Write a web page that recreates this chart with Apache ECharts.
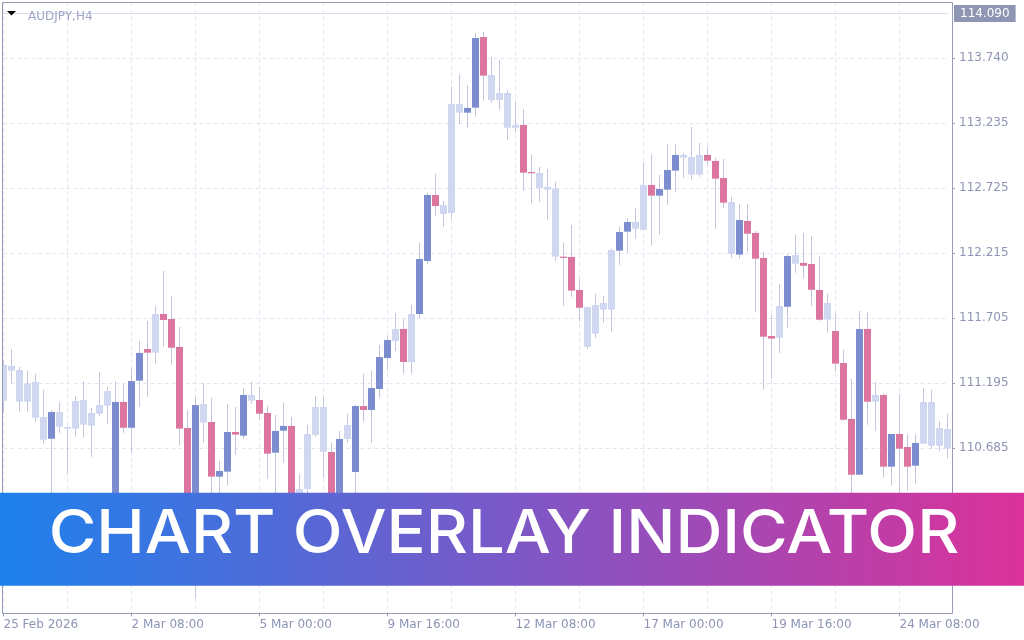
<!DOCTYPE html>
<html>
<head>
<meta charset="utf-8">
<script src="https://cdn.jsdelivr.net/npm/echarts@6/dist/echarts.min.js"></script>
<style>
html,body{margin:0;padding:0;background:#fff;}
#chart{width:1024px;height:640px;}
</style>
</head>
<body>
<div id="chart"></div>
<script>
// ---- data (AUDJPY, H4) ----
const symbolTitle = 'AUDJPY,H4';
const bannerText = 'CHART OVERLAY INDICATOR';
const bidPrice = 114.090;
const yTickValues = [110.685, 111.195, 111.705, 112.215, 112.725, 113.235, 113.740];
const xTickLabels = ['25 Feb 2026', '2 Mar 08:00', '5 Mar 00:00', '9 Mar 16:00', '12 Mar 08:00', '17 Mar 00:00', '19 Mar 16:00', '24 Mar 08:00'];

const openPrices = [
111.338,111.293,111.298,111.050,111.204,110.930,110.760,110.969,110.852,110.839,
111.063,110.862,110.956,111.019,110.163,111.048,110.846,111.215,111.463,111.434,
111.737,111.698,111.479,110.844,110.045,111.032,110.891,110.463,110.502,110.813,
110.784,111.103,111.063,110.962,110.651,110.823,110.860,110.296,110.366,110.789,
111.009,110.656,110.241,110.758,110.499,111.016,110.985,111.150,111.392,111.526,
111.620,111.361,111.737,112.152,112.669,112.591,112.528,113.382,113.314,113.353,
113.907,113.609,113.413,113.468,113.196,113.218,112.849,112.842,112.732,112.719,
112.186,112.184,111.925,111.792,111.583,111.771,111.771,112.233,112.382,112.405,
112.397,112.748,112.664,112.711,112.860,112.983,112.967,112.828,112.983,112.936,
112.802,112.614,112.202,112.466,112.372,112.176,111.565,111.551,111.794,112.199,
112.137,112.129,111.925,111.692,111.604,111.353,110.915,110.478,111.620,111.050,
111.103,110.541,110.797,110.695,110.549,110.721,111.048,110.705,110.836];

const closePrices = [
111.058,111.330,111.050,111.194,110.925,110.752,110.969,110.854,110.839,111.056,
110.870,110.962,111.024,111.134,111.048,110.846,111.212,111.432,111.434,111.737,
111.690,111.473,110.839,110.202,111.024,110.886,110.463,110.507,110.813,110.792,
111.103,111.058,110.956,110.643,110.821,110.860,110.045,110.366,110.797,111.009,
110.658,110.241,110.758,110.868,111.016,110.985,111.157,111.400,111.533,111.620,
111.361,111.737,112.168,112.669,112.583,112.520,113.382,113.314,113.351,113.899,
113.604,113.413,113.468,113.196,113.218,112.844,112.840,112.724,112.711,112.186,
112.176,111.920,111.786,111.479,111.808,111.823,112.238,112.379,112.458,112.458,
112.748,112.664,112.716,112.865,112.983,112.961,112.828,112.983,112.938,112.797,
112.609,112.209,112.473,112.366,112.170,111.559,111.544,111.800,112.191,112.131,
112.115,111.927,111.692,111.823,111.348,110.909,110.478,111.620,111.050,111.103,
110.541,110.797,110.682,110.541,110.727,111.048,110.705,110.844,110.682];

const lowPrices = [
110.962,111.194,110.972,110.972,110.893,110.721,110.304,110.807,110.489,110.776,
110.768,110.619,110.938,110.878,110.084,110.807,110.651,111.011,111.089,111.348,
111.481,111.340,110.705,110.123,109.512,110.729,110.280,110.241,110.392,110.635,
110.760,111.034,110.907,110.447,110.319,110.572,109.928,110.202,110.280,110.776,
110.455,110.163,110.186,110.727,110.304,110.891,110.727,111.079,111.298,111.447,
111.267,111.267,111.706,112.129,112.505,112.419,112.481,113.225,113.196,113.283,
113.408,113.392,113.335,113.100,113.157,112.703,112.604,112.617,112.476,112.155,
111.802,111.873,111.677,111.463,111.551,111.669,111.598,112.123,112.217,112.327,
112.390,112.272,112.358,112.593,112.695,112.805,112.789,112.813,112.904,112.405,
112.570,112.178,112.170,112.225,111.755,111.144,111.230,111.432,111.630,112.061,
112.014,111.802,111.685,111.591,111.285,110.901,110.280,110.478,110.870,110.823,
110.455,110.392,110.280,110.353,110.408,110.721,110.682,110.666,110.604];

const highPrices = [
111.377,111.463,111.322,111.291,111.267,111.142,110.985,111.048,110.852,111.095,
111.212,111.001,111.283,111.165,111.212,111.189,111.314,111.526,111.682,111.800,
112.074,111.878,111.635,110.985,111.095,111.194,111.079,110.586,111.032,111.009,
111.157,111.204,111.165,111.016,110.946,111.040,110.930,110.484,110.868,111.095,
111.087,110.727,110.821,110.954,111.024,111.267,111.291,111.494,111.565,111.745,
111.698,111.808,112.293,112.685,112.834,112.622,113.518,113.617,113.531,113.938,
113.946,113.750,113.727,113.492,113.398,113.343,112.983,112.889,112.873,112.771,
112.293,112.434,112.011,111.792,111.894,111.878,112.249,112.419,112.489,112.567,
112.928,112.990,112.826,113.069,113.069,112.998,113.202,113.077,113.045,112.959,
112.951,112.654,112.599,112.599,112.387,112.223,111.729,111.972,112.207,112.356,
112.372,112.348,112.191,111.894,111.737,111.455,111.228,111.761,111.753,111.204,
111.113,110.797,111.113,110.797,110.797,111.157,111.142,110.899,110.954];

// indicator state per bar: B = strong up, P = strong down, L = neutral
const barTones = ('LLLLLLBLLL' + 'LLLLBPBBPL' + 'PPPPBLPBBP' + 'BLPPBBPLLL' + 'LPBLBPBBBL' +
                  'PLBBPLLLBB' + 'PLLLLPPLLL' + 'PPPLLLLBBL' + 'LPBBBLLLPP' + 'PLBPPPPLBL' +
                  'PPPLPPPBPL' + 'PBPPBLLLL').split('');

// bar times (H4, forex week Mon-Fri), first bar 25 Feb 2026 16:00
const barTimes = [];
(function () {
  let t = Date.UTC(2026, 1, 25, 16);
  while (barTimes.length < openPrices.length) {
    const d = new Date(t);
    const wd = d.getUTCDay();
    if (wd !== 0 && wd !== 6) {
      barTimes.push(d.toISOString().slice(0, 16).replace('T', ' '));
    }
    t += 4 * 3600 * 1000;
  }
})();

// ---- styles ----
const toneColor = { B: '#7b8ccf', P: '#dc75a0', L: '#d0d8f1' };
const wickColor = '#c3c5da';
const frameColor = '#979db6';
const labelColor = '#8d95b3';
const gridColor = '#e4e4f3';

const barData = openPrices.map((o, i) => [i, o, closePrices[i], lowPrices[i], highPrices[i]]);

const chart = echarts.init(document.getElementById('chart'), null, { renderer: 'canvas' });

chart.setOption({
  animation: false,
  backgroundColor: '#ffffff',
  title: {
    text: symbolTitle,
    left: 23, top: 6,
    textStyle: { fontFamily: 'DejaVu Sans', fontSize: 12, fontWeight: 'normal', color: '#9ea5c6' }
  },
  grid: { left: 3.5, right: 76.5, top: 2.5, bottom: 26.7, containLabel: false },
  xAxis: {
    type: 'category',
    data: barTimes,
    boundaryGap: false,
    axisLine: { show: false },
    axisTick: { show: true, interval: 15, length: 3, lineStyle: { color: frameColor } },
    axisLabel: {
      interval: 15, align: 'left', margin: 6,
      fontFamily: 'DejaVu Sans', fontSize: 12, color: labelColor,
      formatter: (v, idx) => xTickLabels[Math.round(idx / 16)] || ''
    },
    splitLine: { show: true, interval: 7, lineStyle: { color: gridColor, type: [4, 3], width: 1 } }
  },
  yAxis: {
    type: 'value',
    position: 'right',
    offset: 4.5,
    min: 109.3925,
    max: 114.177,
    scale: true,
    axisLine: { show: false },
    axisTick: { show: true, length: 3, customValues: yTickValues, lineStyle: { color: frameColor } },
    axisLabel: {
      customValues: yTickValues, margin: 7,
      fontFamily: 'DejaVu Sans', fontSize: 12, color: labelColor,
      formatter: v => v.toFixed(3)
    },
    splitLine: { show: true, lineStyle: { color: gridColor, type: [4, 3], width: 1 } }
  },
  series: [{
    type: 'custom',
    data: barData,
    encode: { x: 0, y: [1, 2, 3, 4] },
    renderItem: function (params, api) {
      const i = api.value(0);
      const o = api.value(1), c = api.value(2), l = api.value(3), h = api.value(4);
      const tone = barTones[params.dataIndex];
      const pO = api.coord([i, o]);
      const pC = api.coord([i, c]);
      const pL = api.coord([i, l]);
      const pH = api.coord([i, h]);
      const step = api.size([1, 0])[0];
      const bw = Math.round(step * 0.875);
      const cx = pO[0];
      let left = cx - bw / 2;
      let right = cx + bw / 2;
      const minX = params.coordSys.x - 0.5;
      if (left < minX) left = minX;
      const top = Math.min(pO[1], pC[1]);
      const bot = Math.max(pO[1], pC[1]);
      return {
        type: 'group',
        children: [
          { type: 'line', shape: { x1: cx, y1: pH[1], x2: cx, y2: pL[1] },
            style: { stroke: wickColor, lineWidth: 1 } },
          { type: 'rect', shape: { x: left, y: top, width: right - left, height: Math.max(bot - top, 1.2) },
            style: { fill: toneColor[tone] } }
        ]
      };
    },
    markLine: {
      silent: true, symbol: 'none', animation: false,
      lineStyle: { color: '#dcdcf0', type: 'solid', width: 1 },
      label: {
        show: true, position: 'end', distance: 6.5,
        formatter: () => bidPrice.toFixed(3),
        fontFamily: 'DejaVu Sans', fontSize: 12, color: '#ffffff',
        backgroundColor: '#8e96b4', padding: [3, 6, 2, 6]
      },
      data: [{ yAxis: bidPrice }]
    },
    z: 2
  }],
  graphic: [
    { type: 'rect', z: 50, silent: true,
      shape: { x: 2.5, y: 2.5, width: 950, height: 611 },
      style: { fill: 'none', stroke: frameColor, lineWidth: 1 } },
    { type: 'polygon', z: 50, silent: true,
      shape: { points: [[7, 11], [16, 11], [11.5, 15.5]] },
      style: { fill: '#000000' } },
    { type: 'rect', z: 100, silent: true,
      shape: { x: 0, y: 492.7, width: 1024, height: 93 },
      style: {
        fill: new echarts.graphic.LinearGradient(0, 0, 1, 0, [
          { offset: 0, color: '#1d81ec' },
          { offset: 0.5, color: '#7c58c7' },
          { offset: 1, color: '#db3299' }
        ])
      } },
    { type: 'text', z: 101, silent: true,
      x: 504, y: 535, scaleX: 1.084, scaleY: 1,
      style: {
        text: bannerText,
        fill: '#ffffff',
        font: '500 60px Inter',
        textAlign: 'center',
        textVerticalAlign: 'middle'
      } }
  ]
});
</script>
</body>
</html>
